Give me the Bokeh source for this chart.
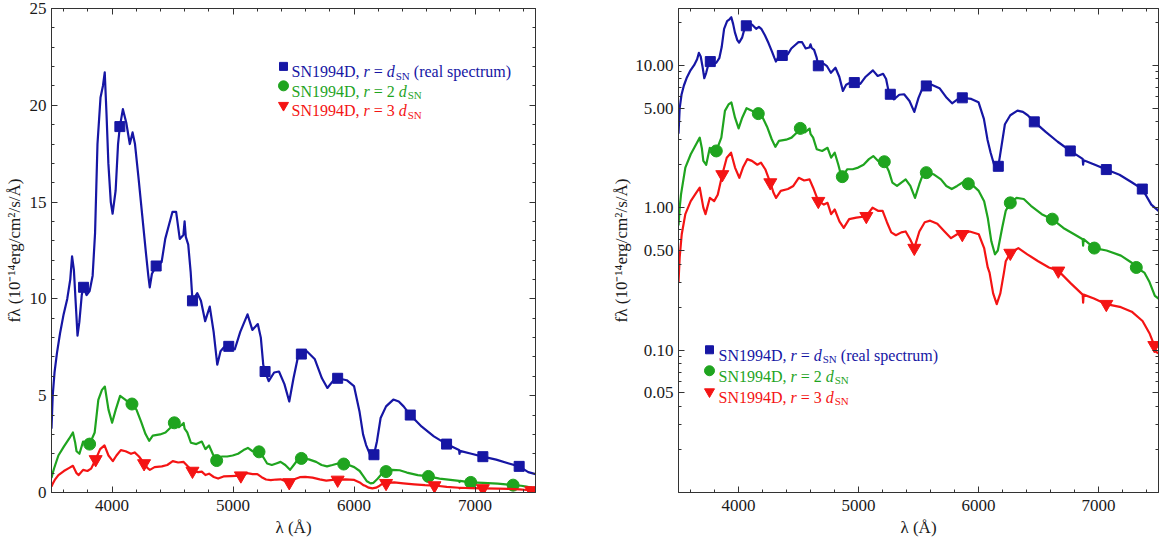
import math
from bokeh.plotting import figure
from bokeh.models import (Range1d, FixedTicker, LinearAxis, LogAxis,
                          PrintfTickFormatter, Label, CustomJSTickFormatter)
from bokeh.layouts import row
from bokeh.embed import file_html
from bokeh.resources import INLINE

# ---------------- data ----------------
wl_blue = [3500, 3510, 3525, 3545, 3570, 3600, 3630, 3655, 3670, 3685, 3700, 3715, 3730, 3750,
           3765, 3790, 3815, 3840, 3860, 3880, 3905, 3925, 3940, 3955, 3970, 3990, 4005, 4030,
           4050, 4065, 4090, 4118, 4147, 4170, 4190, 4220, 4250, 4280, 4300, 4312, 4330, 4365,
           4410, 4440, 4470, 4500, 4530, 4560, 4590, 4600, 4610, 4630, 4650, 4665, 4705, 4735,
           4770, 4808, 4840, 4870, 4897, 4925, 4965, 5015, 5060, 5120, 5160, 5205, 5230, 5250,
           5265, 5295, 5340, 5380, 5425, 5465, 5500, 5535, 5565, 5610, 5675, 5735, 5780, 5825,
           5865, 5940, 6000, 6045, 6075, 6100, 6130, 6165, 6190, 6220, 6265, 6325, 6370, 6410,
           6465, 6560, 6660, 6765, 6868, 6872, 6876, 6970, 7065, 7175, 7280, 7365, 7440, 7500]
flux_blue = [3.3, 5.0, 6.2, 7.2, 8.2, 9.2, 10.0, 11.0, 12.2, 11.5, 9.8, 8.1, 8.8, 10.2,
             10.6, 10.2, 10.4, 11.2, 13.4, 18.0, 20.4, 21.0, 21.7, 19.5, 17.0, 15.0, 14.4, 15.6,
             18.0, 18.9, 19.8, 19.1, 18.0, 18.6, 18.0, 16.2, 14.3, 12.4, 11.2, 10.6, 11.3, 11.7,
             11.9, 13.1, 13.8, 14.5, 14.5, 13.1, 13.3, 14.0, 13.2, 12.8, 11.4, 9.9, 10.3, 9.9,
             8.85, 9.6, 8.3, 6.6, 7.3, 7.5, 7.55, 7.4, 8.3, 9.2, 8.4, 8.7, 8.0, 6.6,
             6.25, 5.75, 6.2, 6.25, 5.6, 4.7, 5.9, 6.95, 7.15, 7.3, 6.9, 5.9, 5.4, 5.75,
             5.9, 5.8, 5.5, 4.2, 3.0, 2.45, 2.0, 1.95, 2.65, 3.85, 4.45, 4.8, 4.7, 4.45,
             4.0, 3.4, 2.9, 2.5, 2.2, 2.0, 2.15, 2.0, 1.85, 1.7, 1.5, 1.35, 1.05, 0.95]

wl_green = [3500, 3510, 3521, 3557, 3602, 3647, 3677, 3695, 3707, 3731, 3761, 3785, 3815, 3857,
            3887, 3917, 3941, 3971, 4001, 4031, 4067, 4112, 4165, 4202, 4241, 4277, 4307, 4337,
            4397, 4442, 4487, 4515, 4553, 4592, 4600, 4622, 4652, 4697, 4742, 4772, 4802, 4832,
            4853, 4865, 4907, 4952, 4997, 5042, 5087, 5123, 5162, 5215, 5252, 5282, 5321, 5357,
            5393, 5432, 5471, 5507, 5537, 5565, 5627, 5687, 5732, 5777, 5822, 5867, 5915, 5957,
            6002, 6047, 6077, 6107, 6137, 6161, 6197, 6227, 6265, 6317, 6377, 6437, 6527, 6615,
            6707, 6797, 6868, 6872, 6876, 6965, 7067, 7187, 7277, 7315, 7382, 7425, 7470, 7500]
flux_green = [0.75, 1.0, 1.24, 1.91, 2.37, 2.79, 3.1, 2.6, 2.13, 2.0, 2.63, 2.55, 2.5, 3.1,
              4.78, 5.3, 5.47, 4.28, 3.6, 4.28, 4.99, 4.78, 4.57, 4.28, 3.65, 3.02, 2.67, 2.94,
              3.0, 3.1, 3.37, 3.6, 3.37, 3.59, 3.3, 3.1, 2.57, 2.5, 2.63, 2.24, 2.43, 2.0,
              1.71, 1.65, 1.86, 1.86, 1.91, 2.0, 2.19, 2.3, 2.13, 2.1, 1.81, 1.5, 1.42, 1.5,
              1.58, 1.42, 1.17, 1.46, 1.71, 1.76, 1.71, 1.58, 1.42, 1.35, 1.42, 1.5, 1.47, 1.42,
              1.31, 1.11, 0.85, 0.58, 0.47, 0.5, 0.72, 0.95, 1.08, 1.17, 1.15, 1.03, 0.9, 0.83,
              0.72, 0.65, 0.6, 0.54, 0.6, 0.52, 0.5, 0.46, 0.41, 0.38, 0.35, 0.3, 0.24, 0.23]

wl_red = [3500, 3510, 3527, 3557, 3602, 3647, 3677, 3707, 3725, 3761, 3797, 3827, 3865, 3902,
          3938, 3971, 4007, 4037, 4073, 4112, 4157, 4187, 4223, 4265, 4292, 4313, 4352, 4412,
          4457, 4502, 4547, 4592, 4622, 4665, 4712, 4742, 4772, 4802, 4841, 4877, 4922, 4982,
          5065, 5117, 5162, 5201, 5237, 5273, 5312, 5357, 5393, 5430, 5465, 5507, 5552, 5597,
          5657, 5717, 5771, 5822, 5865, 5927, 6002, 6047, 6077, 6092, 6122, 6152, 6182, 6212,
          6227, 6265, 6332, 6407, 6497, 6587, 6665, 6767, 6868, 6872, 6876, 6962, 7065, 7187,
          7277, 7367, 7427, 7465, 7480, 7500]
flux_red = [0.3, 0.45, 0.65, 0.9, 1.11, 1.27, 1.38, 1.0, 0.9, 1.17, 1.11, 1.23, 1.71, 2.24,
            2.43, 1.91, 1.62, 1.91, 2.19, 2.13, 2.0, 2.07, 1.86, 1.5, 1.27, 1.17, 1.31, 1.35,
            1.42, 1.62, 1.55, 1.58, 1.38, 1.11, 1.05, 1.08, 0.9, 0.97, 0.8, 0.72, 0.83, 0.85,
            0.87, 1.0, 0.95, 0.95, 0.79, 0.67, 0.64, 0.67, 0.68, 0.6, 0.52, 0.68, 0.79, 0.81,
            0.77, 0.68, 0.61, 0.65, 0.65, 0.68, 0.65, 0.52, 0.38, 0.35, 0.25, 0.21, 0.25, 0.35,
            0.42, 0.48, 0.52, 0.47, 0.42, 0.38, 0.36, 0.295, 0.245, 0.215, 0.245, 0.23, 0.21, 0.2,
            0.186, 0.16, 0.13, 0.108, 0.097, 0.095]

mk_wl_blue = [3765, 4065, 4365, 4665, 4965, 5265, 5565, 5865, 6165, 6465, 6765, 7065, 7365]
mk_f_blue = [10.6, 18.9, 11.7, 9.9, 7.55, 6.25, 7.15, 5.9, 1.95, 4.0, 2.5, 1.85, 1.35]
mk_wl_green = [3815, 4165, 4515, 4865, 5215, 5565, 5915, 6265, 6615, 6965, 7315]
mk_f_green = [2.5, 4.57, 3.6, 1.65, 2.1, 1.76, 1.47, 1.08, 0.83, 0.52, 0.38]
mk_wl_red = [3865, 4265, 4665, 5065, 5465, 5865, 6265, 6665, 7065, 7465]
mk_f_red = [1.71, 1.5, 1.11, 0.87, 0.52, 0.65, 0.48, 0.36, 0.21, 0.108]

x_major = [4000, 5000, 6000, 7000]
x_minor = [3600, 3800, 4200, 4400, 4600, 4800, 5200, 5400, 5600, 5800,
           6200, 6400, 6600, 6800, 7200, 7400]
y_lin_major = [0, 5, 10, 15, 20, 25]
y_lin_minor = [1, 2, 3, 4, 6, 7, 8, 9, 11, 12, 13, 14, 16, 17, 18, 19, 21, 22, 23, 24]
y_log_major = [0.05, 0.1, 0.5, 1, 5, 10]
y_log_minor = [0.02, 0.03, 0.04, 0.06, 0.07, 0.08, 0.09, 0.2, 0.3, 0.4, 0.6, 0.7,
               0.8, 0.9, 2, 3, 4, 6, 7, 8, 9, 20]

y_title = "fλ (10⁻¹⁴erg/cm²/s/Å)"
x_title = "λ (Å)"
legend_texts = [("SN1994D, ", "r", " = ", "d", "SN", " (real spectrum)"),
                ("SN1994D, ", "r", " = 2 ", "d", "SN", ""),
                ("SN1994D, ", "r", " = 3 ", "d", "SN", "")]

# ---------------- styling ----------------
FONT = "Liberation Serif"
BLUE = "#1616a4"
GREEN = "#1fa41f"
RED = "#f41414"
COLORS = [BLUE, GREEN, RED]
FRAME = "#333333"
TXT = "#1a1a1a"

W_REG = {' ': 250, '(': 333, ')': 333, ',': 250, '=': 564, '/': 278, '.': 250,
         '0': 500, '1': 500, '2': 500, '3': 500, '4': 500, '9': 500,
         'S': 556, 'N': 722, 'D': 722, 'a': 444, 'c': 444, 'e': 444, 'g': 500,
         'l': 278, 'm': 778, 'p': 500, 'r': 333, 's': 389, 't': 278, 'u': 500,
         'Å': 722, '−': 564, 'λ': 550}
W_IT = {'f': 278, 'r': 389, 'd': 500}


def tw(s, size, italic=False):
    tab = W_IT if italic else W_REG
    return sum(tab.get(c, W_REG.get(c, 500)) for c in s) * size / 1000.0


class Geo:
    def __init__(self, L, R, T, B, x0, x1, y0, y1, log=False):
        self.L, self.R, self.T, self.B = L, R, T, B
        self.x0, self.x1, self.y0, self.y1, self.log = x0, x1, y0, y1, log

    def x(self, px):
        return self.x0 + (self.x1 - self.x0) * (px - self.L) / (self.R - self.L)

    def y(self, py):
        f = (self.B - py) / (self.B - self.T)
        if self.log:
            a, b = math.log10(self.y0), math.log10(self.y1)
            return 10 ** (a + f * (b - a))
        return self.y0 + f * (self.y1 - self.y0)


def style_axis(ax, labels=True):
    ax.axis_line_color = FRAME
    ax.major_tick_line_color = FRAME
    ax.minor_tick_line_color = FRAME
    ax.major_tick_in = 6
    ax.major_tick_out = 0
    ax.minor_tick_in = 3
    ax.minor_tick_out = 0
    ax.major_label_text_font = FONT
    ax.major_label_text_font_size = "17px"
    ax.major_label_text_color = TXT
    ax.axis_label_text_font = FONT
    ax.axis_label_text_font_size = "17px"
    ax.axis_label_text_font_style = "normal"
    ax.axis_label_text_color = TXT
    if labels:
        ax.major_label_standoff = 5
    else:
        ax.major_label_standoff = 0
        ax.formatter = CustomJSTickFormatter(code="return ''")


def make_panel(width, borders, yrange, log, geo, yticker, yfmt, opts):
    bl, br, bt, bb = borders
    p = figure(width=width, height=544, x_range=Range1d(3500, 7500), y_range=yrange,
               y_axis_type="log" if log else "linear", output_backend="svg",
               toolbar_location=None, min_border_left=bl, min_border_right=br,
               min_border_top=bt, min_border_bottom=bb)
    p.xgrid.visible = False
    p.ygrid.visible = False
    p.background_fill_color = "white"
    p.border_fill_color = "white"
    p.outline_line_color = FRAME
    xt = FixedTicker(ticks=x_major, minor_ticks=x_minor)
    p.xaxis.ticker = xt
    p.yaxis.ticker = yticker
    p.yaxis.formatter = yfmt
    for ax in p.xaxis + p.yaxis:
        style_axis(ax)
    p.xaxis.major_label_standoff = 7
    p.xaxis.axis_label = x_title
    p.xaxis.axis_label_standoff = 4
    p.yaxis.axis_label = y_title
    p.yaxis.axis_label_standoff = opts["ylab_standoff"]
    top = LinearAxis(ticker=xt)
    style_axis(top, labels=False)
    p.add_layout(top, "above")
    right = (LogAxis if log else LinearAxis)(ticker=yticker)
    style_axis(right, labels=False)
    p.add_layout(right, "right")

    series = [(wl_blue, flux_blue, mk_wl_blue, mk_f_blue, "square", 10),
              (wl_green, flux_green, mk_wl_green, mk_f_green, "circle", 12),
              (wl_red, flux_red, mk_wl_red, mk_f_red, "inverted_triangle", 13)]
    for (wl, fl, mw, mf, mk, sz), c in zip(series, COLORS):
        p.line(wl, fl, line_color=c, line_width=2.2, line_join="round")
        p.scatter(mw, mf, marker=mk, size=sz, fill_color=c, line_color=c)

    # legend (rich text built from pieces; spaces are advanced explicitly)
    mx, tx, rows = opts["mx"], opts["tx"], opts["rows"]
    mk_specs = [("square", 8), ("circle", 10), ("inverted_triangle", 10)]
    for (mk, sz), c, cy, parts in zip(mk_specs, COLORS, rows, legend_texts):
        p.scatter([geo.x(mx)], [geo.y(cy)], marker=mk, size=sz, fill_color=c, line_color=c)
        base = cy + 5.5
        a, r_, eq, d_, sub, tail = parts
        pieces = [(a, 16, "normal", 0), (r_, 16, "italic", 0), (eq, 16, "normal", 0),
                  (d_, 16, "italic", 0), (sub, 11, "normal", 4), (tail, 16, "normal", 0)]
        xo = 0.0
        for s, z, st, dy in pieces:
            if not s:
                continue
            it = st == "italic"
            lead = len(s) - len(s.lstrip(" "))
            core = s.strip(" ")
            trail = len(s) - lead - len(core)
            xo += lead * tw(" ", z)
            p.add_layout(Label(x=geo.x(tx), y=geo.y(base + dy), x_units="data",
                               y_units="data", x_offset=xo, text=core, text_font=FONT,
                               text_font_size=f"{z}px", text_font_style=st, text_color=c,
                               text_align="left", text_baseline="alphabetic"))
            xo += tw(core, z, it) + trail * tw(" ", z) + (1 if core == "d" else 0)
    return p


g1 = Geo(51, 535, 8, 493, 3500, 7500, 0, 25)
p1 = make_panel(555, (51, 20, 8, 51), Range1d(0, 25), False, g1,
                FixedTicker(ticks=y_lin_major, minor_ticks=y_lin_minor),
                PrintfTickFormatter(format="%d"),
                {"ylab_standoff": 3, "mx": 283, "tx": 291, "rows": [66, 85.5, 105]})

g2 = Geo(678, 1158, 7, 492, 3500, 7500, 0.01, 25, log=True)
p2 = make_panel(604, (123, 1, 7, 52), Range1d(0.01, 25), True, g2,
                FixedTicker(ticks=y_log_major, minor_ticks=y_log_minor),
                PrintfTickFormatter(format="%.2f"),
                {"ylab_standoff": 1, "mx": 709, "tx": 718, "rows": [349, 370, 391]})

layout = row(p1, p2)
open("out.html", "w").write(file_html(layout, INLINE))
